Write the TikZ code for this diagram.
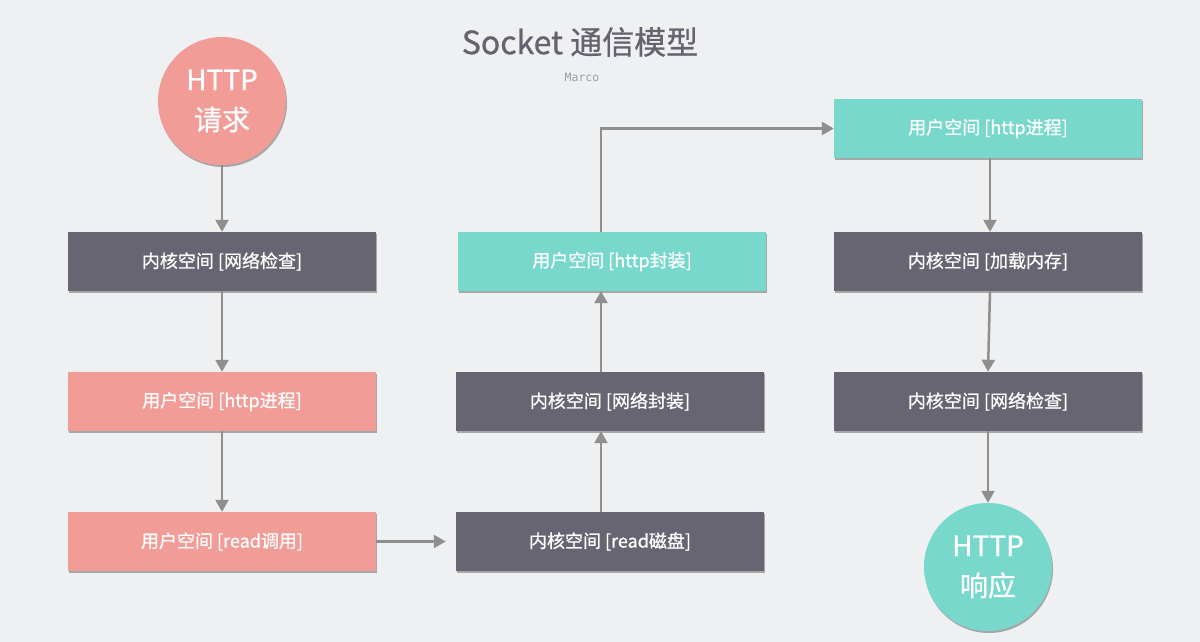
\documentclass[tikz,border=0pt]{standalone}
\usepackage{fontspec}
\setmainfont{Noto Sans CJK SC}
\newfontfamily\medfont{Noto Sans CJK SC}[FakeBold=0.7]
\newfontfamily\markfont{DejaVu Sans Mono}
\usetikzlibrary{arrows.meta,shadows}
\definecolor{bgcol}{HTML}{EFF0F2}
\definecolor{salmon}{HTML}{F19C96}
\definecolor{slate}{HTML}{676571}
\definecolor{mint}{HTML}{78D8CC}
\definecolor{linecol}{HTML}{8F8F8F}
\definecolor{titlecol}{HTML}{65636E}
\definecolor{markcol}{HTML}{9A9EA6}

\begin{document}
\begin{tikzpicture}[
    x=1pt,
    y=-1pt,
    every node/.style={font=\medfont\fontsize{18}{20}\selectfont, text=white},
    box/.style={minimum width=308pt, minimum height=59pt, inner sep=0pt,
        drop shadow={shadow xshift=1pt, shadow yshift=-2pt, opacity=0.3, fill=black}},
    ball/.style={circle, minimum size=128pt, inner sep=0pt, align=center,
        font=\medfont\fontsize{28}{40}\selectfont,
        drop shadow={shadow xshift=1pt, shadow yshift=-2pt, opacity=0.3, fill=black}},
    flow/.style={-{Triangle[length=12pt,width=13pt]}, line width=2.5pt, draw=linecol}
]

    \fill[bgcol] (0,0) rectangle (1200,642);
    \useasboundingbox (0,0) rectangle (1200,642);

    \node[text=titlecol, font=\medfont\fontsize{32}{36}\selectfont] (title) at (580,42) {Socket 通信模型};
    \node[text=markcol, font=\markfont\fontsize{11.5}{13}\selectfont] (mark) at (582,77) {Marco};

    \node[ball, fill=salmon] (req) at (222,101) {HTTP\\请求};

    \node[box, fill=slate] (kcheck) at (222,261.5) {内核空间 [网络检查]};
    \node[box, fill=salmon] (uproc) at (222,401.5) {用户空间 [http进程]};
    \node[box, fill=salmon] (uread) at (222,541.5) {用户空间 [read调用]};

    \node[box, fill=slate] (kread) at (610,541.5) {内核空间 [read磁盘]};
    \node[box, fill=slate] (kpack) at (610,401.5) {内核空间 [网络封装]};
    \node[box, fill=mint] (upack) at (612,261.5) {用户空间 [http封装]};

    \node[box, fill=mint] (uproc2) at (988,128.5) {用户空间 [http进程]};
    \node[box, fill=slate] (kload) at (988,261.5) {内核空间 [加载内存]};
    \node[box, fill=slate] (kcheck2) at (988,401.5) {内核空间 [网络检查]};

    \node[ball, fill=mint] (resp) at (988,567) {HTTP\\响应};

    \draw[flow] (req) -- (kcheck);
    \draw[flow] (kcheck) -- (uproc);
    \draw[flow] (uproc) -- (uread);
    \draw[flow, shorten >=10pt] (uread) -- (kread);
    \draw[flow] ([xshift=-9pt]kread.north) -- ([xshift=-9pt]kpack.south);
    \draw[flow] ([xshift=-9pt]kpack.north) -- ([xshift=-11pt]upack.south);
    \draw[flow] ([xshift=-11pt]upack.north) |- (uproc2);
    \draw[flow] ([xshift=2pt]uproc2.south) -- ([xshift=2pt]kload.north);
    \draw[flow] ([xshift=2pt]kload.south) -- (kcheck2.north);
    \draw[flow] (kcheck2) -- (resp);

\end{tikzpicture}
\end{document}
